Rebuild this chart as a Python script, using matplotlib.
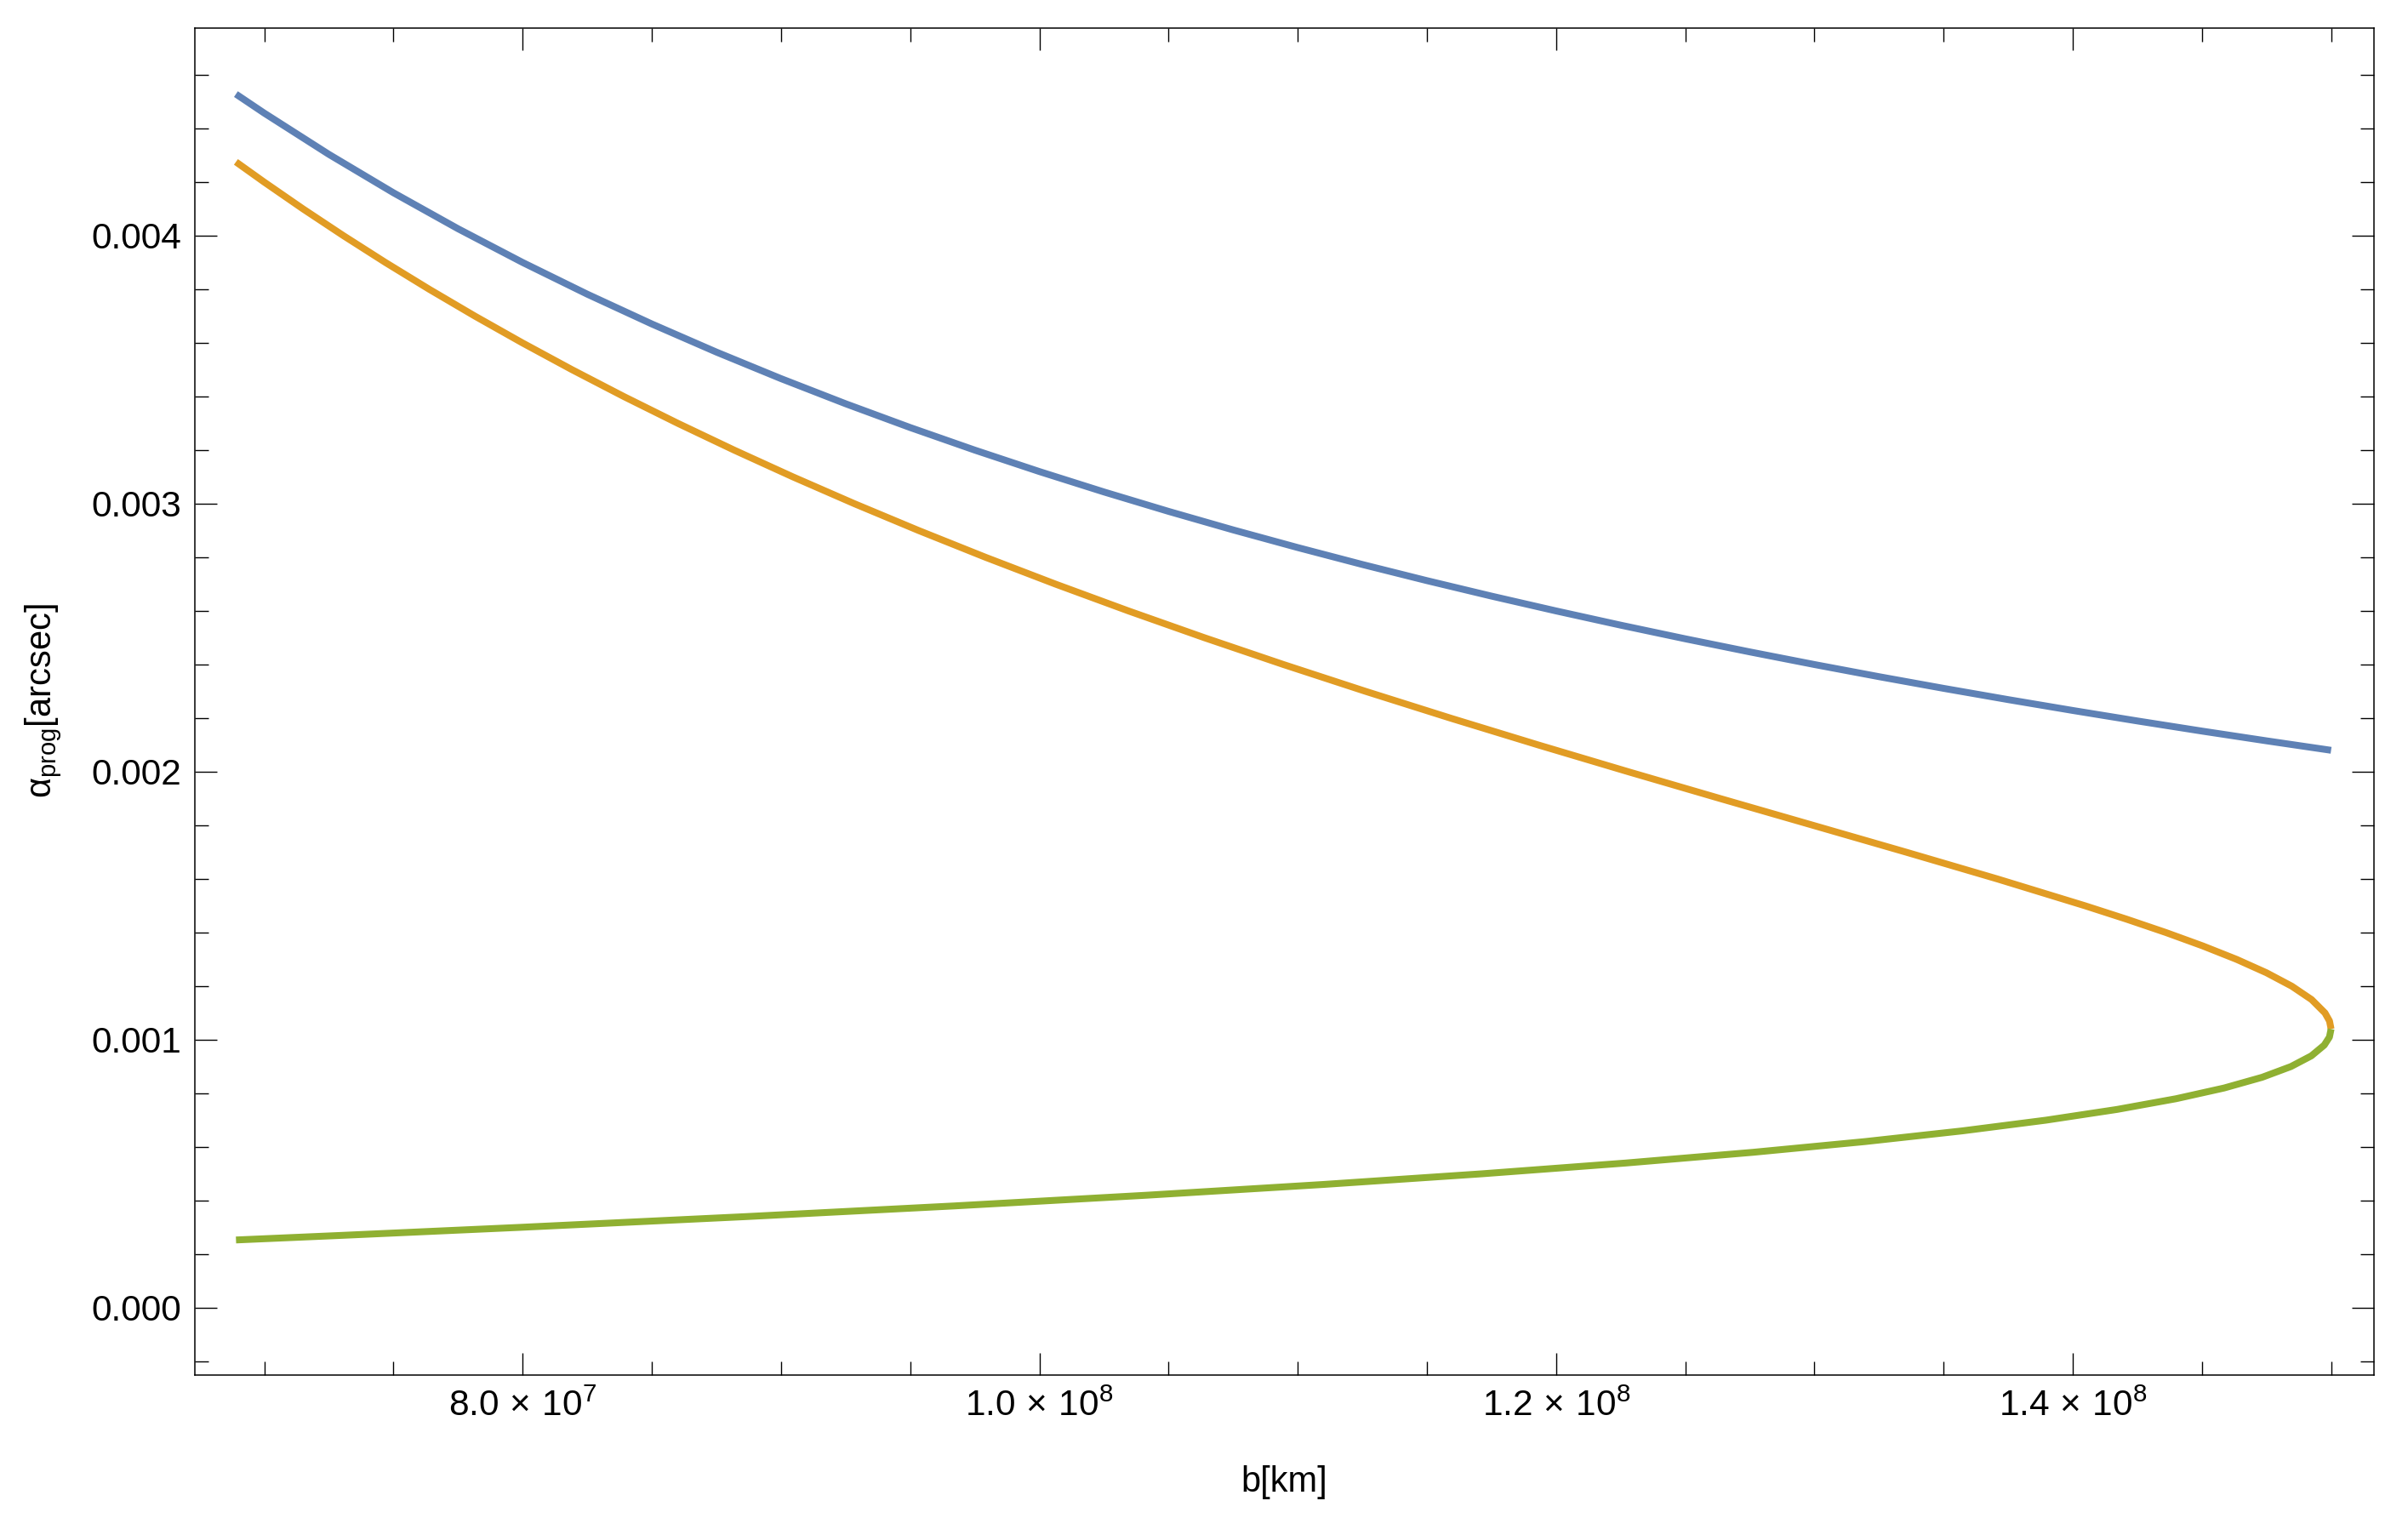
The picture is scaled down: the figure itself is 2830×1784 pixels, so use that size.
import matplotlib
matplotlib.use("Agg")
import matplotlib.pyplot as plt
from matplotlib.ticker import MultipleLocator, FixedLocator

plt.rcParams['font.family'] = ['Liberation Sans', 'DejaVu Sans']
plt.rcParams['mathtext.fontset'] = 'custom'
plt.rcParams['mathtext.rm'] = 'Liberation Sans'
plt.rcParams['mathtext.it'] = 'Liberation Sans:italic'
plt.rcParams['mathtext.bf'] = 'Liberation Sans:bold'

# ---- data (b in km, alpha in arcsec) ----
blue_b = [6.89e7, 7.0e7, 7.25e7, 7.5e7, 7.75e7, 8.0e7, 8.25e7, 8.5e7, 8.75e7, 9.0e7,
          9.25e7, 9.5e7, 9.75e7, 1.0e8, 1.025e8, 1.05e8, 1.075e8, 1.1e8, 1.125e8,
          1.15e8, 1.175e8, 1.2e8, 1.225e8, 1.25e8, 1.275e8, 1.3e8, 1.325e8,
          1.35e8, 1.375e8, 1.4e8, 1.425e8, 1.45e8, 1.475e8, 1.5e8]
blue_alpha = [0.0045283, 0.0044571, 0.0043034, 0.0041600, 0.0040258, 0.0039000,
              0.0037818, 0.0036706, 0.0035657, 0.0034667, 0.0033730, 0.0032842,
              0.0032000, 0.0031200, 0.0030439, 0.0029714, 0.0029023, 0.0028364,
              0.0027733, 0.0027130, 0.0026553, 0.0026000, 0.0025469, 0.0024960,
              0.0024471, 0.0024000, 0.0023547, 0.0023111, 0.0022691, 0.0022286,
              0.0021895, 0.0021517, 0.0021153, 0.0020800]

orange_b = [6.8900e7, 6.9994e7, 7.1497e7, 7.3062e7, 7.4689e7, 7.6384e7, 7.8150e7,
            7.9991e7, 8.1911e7, 8.3913e7, 8.6004e7, 8.8186e7, 9.0463e7, 9.2842e7,
            9.5326e7, 9.7919e7, 1.00626e8, 1.03448e8, 1.06389e8, 1.09448e8,
            1.12625e8, 1.15915e8, 1.19309e8, 1.22796e8, 1.26353e8, 1.29952e8,
            1.33548e8, 1.37083e8, 1.40473e8, 1.42081e8, 1.43609e8, 1.45036e8,
            1.46342e8, 1.47498e8, 1.48477e8, 1.49245e8, 1.49764e8, 1.49939e8,
            1.50000e8]
orange_alpha = [0.0042753, 0.0042, 0.0041, 0.0040, 0.0039, 0.0038, 0.0037,
                0.0036, 0.0035, 0.0034, 0.0033, 0.0032, 0.0031, 0.0030,
                0.0029, 0.0028, 0.0027, 0.0026, 0.0025, 0.0024,
                0.0023, 0.0022, 0.0021, 0.0020, 0.0019, 0.0018,
                0.0017, 0.0016, 0.0015, 0.00145, 0.0014, 0.00135,
                0.0013, 0.00125, 0.0012, 0.00115, 0.0011, 0.00107,
                0.00104]

green_b = [1.50000e8, 1.49936e8, 1.49736e8, 1.49237e8, 1.48446e8, 1.47332e8,
           1.45861e8, 1.44000e8, 1.41714e8, 1.38966e8, 1.35724e8, 1.31951e8,
           1.27616e8, 1.22692e8, 1.17152e8, 1.10980e8, 1.04165e8, 9.6705e7,
           8.8607e7, 7.9891e7, 7.2967e7, 6.8903e7]
green_alpha = [0.00104, 0.00101, 0.00098, 0.00094, 0.00090, 0.00086,
               0.00082, 0.00078, 0.00074, 0.00070, 0.00066, 0.00062,
               0.00058, 0.00054, 0.00050, 0.00046, 0.00042, 0.00038,
               0.00034, 0.00030, 0.00027, 0.000253]

x_major = [8.0e7, 1.0e8, 1.2e8, 1.4e8]
x_labels = [r'$\mathregular{8.0\,\times\,10^{7}}$', r'$\mathregular{1.0\,\times\,10^{8}}$',
            r'$\mathregular{1.2\,\times\,10^{8}}$', r'$\mathregular{1.4\,\times\,10^{8}}$']
y_major = [0.000, 0.001, 0.002, 0.003, 0.004]
y_labels = ['0.000', '0.001', '0.002', '0.003', '0.004']

# ---- figure ----
W, H = 2830, 1784
fig = plt.figure(figsize=(W / 100, H / 100), dpi=100)
L, R, T, B = 229.3, 2790, 33, 1616
ax = fig.add_axes([L / W, 1 - B / H, (R - L) / W, (B - T) / H])

lw = 5.8
ax.plot(blue_b, blue_alpha, color='#5E81B5', lw=lw, solid_capstyle='butt', solid_joinstyle='round')
ax.plot(orange_b, orange_alpha, color='#E19C24', lw=lw, solid_capstyle='butt', solid_joinstyle='round')
ax.plot(green_b, green_alpha, color='#8FB032', lw=lw, solid_capstyle='butt', solid_joinstyle='round')

ax.set_xlim(6.732e7, 1.5166e8)
ax.set_ylim(-0.000251, 0.0047746)

ax.xaxis.set_major_locator(FixedLocator(x_major))
ax.set_xticklabels(x_labels)
ax.xaxis.set_minor_locator(MultipleLocator(5e6))
ax.yaxis.set_major_locator(FixedLocator(y_major))
ax.set_yticklabels(y_labels)
ax.yaxis.set_minor_locator(MultipleLocator(0.0002))

ax.tick_params(which='both', direction='in', top=True, right=True, width=1.0, color='black')
ax.tick_params(which='major', length=19, labelsize=30.5, labelcolor='black')
ax.tick_params(which='minor', length=11.5)
ax.tick_params(axis='y', which='major', pad=11.5)
ax.tick_params(axis='x', which='major', pad=12)

for sp in ax.spines.values():
    sp.set_linewidth(1.1)
    sp.set_color('black')

fig.text(1509.5 / W, 1 - 1742 / H, 'b[km]', ha='center', va='center', fontsize=30)
fig.text(51 / W, 1 - 824 / H, r'$\mathregular{\alpha_{prog}}$[arcsec]', ha='center', va='center',
         rotation=90, fontsize=30)

fig.savefig('out.png', dpi=100)
